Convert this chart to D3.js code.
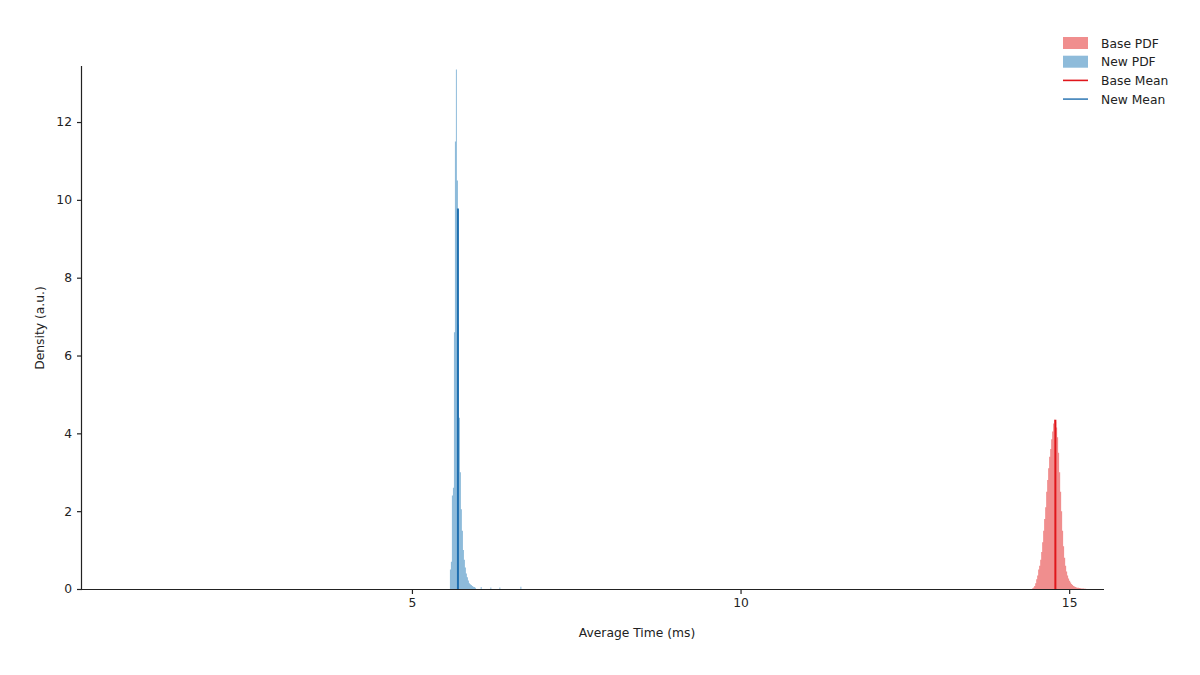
<!DOCTYPE html>
<html><head><meta charset="utf-8">
<script src="https://cdn.jsdelivr.net/npm/d3@7"></script>
<style>body{margin:0;background:#fff}svg{display:block}text{font-family:"DejaVu Sans",sans-serif;fill:#222}</style>
</head><body><svg id="c" width="1200" height="675"></svg>
<script>
// ---- data ----
const binWidth = 0.0152;
const newBinStart = [5.578,5.593,5.608,5.624,5.639,5.654,5.669,5.684,5.700,5.715,5.730,5.745,5.760,5.776,5.791,5.806,5.821,5.836,5.852,5.867,5.882,5.897,5.912,5.928,5.943,5.958,6.046,6.193,6.330,6.650];
const newDensity  = [0.5,0.7,2.4,2.6,6.6,11.5,13.35,10.5,6.8,4.4,3.0,2.05,1.5,1.0,0.75,0.55,0.4,0.3,0.22,0.15,0.12,0.1,0.08,0.06,0.05,0.03,0.05,0.04,0.04,0.06];
const baseBinStart = [14.437,14.452,14.467,14.483,14.498,14.513,14.528,14.543,14.559,14.574,14.589,14.604,14.619,14.635,14.650,14.665,14.680,14.695,14.711,14.726,14.741,14.756,14.771,14.787,14.802,14.817,14.832,14.847,14.863,14.878,14.893,14.908,14.923,14.939,14.954,14.969,14.984,14.999,15.015,15.030,15.045,15.060,15.075,15.091,15.106,15.121,15.136,15.151,15.167,15.182,15.197,15.212,15.227,15.243];
const baseDensity = [0.02,0.04,0.08,0.15,0.25,0.35,0.5,0.6,0.75,0.95,1.2,1.5,1.8,2.1,2.5,2.8,3.1,3.4,3.6,3.85,4.05,4.25,4.35,4.3,4.15,3.9,3.5,3.0,2.5,2.0,1.5,1.1,0.8,0.6,0.45,0.35,0.27,0.21,0.17,0.13,0.1,0.08,0.065,0.05,0.04,0.035,0.03,0.025,0.02,0.015,0.012,0.01,0.008,0.005];
const baseMean = 14.79, baseMeanDensity = 4.35;
const newMean = 5.70, newMeanDensity = 9.78;
const xTicks = [5, 10, 15];
const yTicks = [0, 2, 4, 6, 8, 10, 12];
const legendLabels = ["Base PDF", "New PDF", "Base Mean", "New Mean"];

// ---- layout ----
const svg = d3.select("#c");
const L = 82, R = 1104, T = 66, B = 589;
const x = d3.scaleLinear().domain([-0.02, 15.53]).range([L, R]);
const y = d3.scaleLinear().domain([0, 13.44]).range([B, T]);
const FS = "12.3px";

function histArea(starts, dens, fill) {
  const pts = [];
  starts.forEach((s, i) => {
    pts.push([s, dens[i]]);
    const end = s + binWidth;
    const next = starts[i + 1];
    if (next === undefined || next - end > binWidth * 0.5) pts.push([end, 0]);
  });
  const area = d3.area().curve(d3.curveStepAfter)
    .x(d => x(d[0])).y0(y(0)).y1(d => y(d[1]));
  svg.append("path").datum(pts).attr("d", area).attr("fill", fill);
}
histArea(newBinStart, newDensity, "#8ebbda");
histArea(baseBinStart, baseDensity, "#f08e8e");

// mean lines
svg.append("line").attr("x1", x(newMean)).attr("x2", x(newMean))
  .attr("y1", y(0)).attr("y2", y(newMeanDensity)).attr("stroke", "#1f6fb0").attr("stroke-width", 2);
svg.append("line").attr("x1", x(baseMean)).attr("x2", x(baseMean))
  .attr("y1", y(0)).attr("y2", y(baseMeanDensity)).attr("stroke", "#e0161b").attr("stroke-width", 2);

// axes
const xa = svg.append("g").attr("transform", `translate(0,${B})`)
  .call(d3.axisBottom(x).tickValues(xTicks).tickSize(5).tickPadding(4).tickSizeOuter(0));
const ya = svg.append("g").attr("transform", `translate(${L},0)`)
  .call(d3.axisLeft(y).tickValues(yTicks).tickSize(5).tickPadding(5).tickSizeOuter(0));
[xa, ya].forEach(g => {
  g.selectAll("path.domain").attr("stroke", "#222").attr("stroke-width", 1.2);
  g.selectAll(".tick line").attr("stroke", "#222").attr("stroke-width", 1.2);
  g.selectAll(".tick text").style("font-family", "DejaVu Sans").style("font-size", FS).attr("fill", "#222");
});
xa.select("path.domain").attr("d", `M${L},0.5H${R}`);
ya.select("path.domain").attr("d", `M-0.5,${T}V${B}`);

svg.append("text").attr("x", 637).attr("y", 637).attr("text-anchor", "middle")
  .style("font-size", FS).text("Average Time (ms)");
svg.append("text").attr("transform", "translate(44,328) rotate(-90)").attr("text-anchor", "middle")
  .style("font-size", FS).text("Density (a.u.)");

// legend
const lg = svg.append("g").attr("transform", "translate(1063,43)");
const lgColors = ["#f08e8e", "#8ebbda", "#e0161b", "#3a7fb8"];
legendLabels.forEach((lab, i) => {
  const gy = i * 18.7;
  if (i < 2) lg.append("rect").attr("x", 0).attr("y", gy - 6).attr("width", 25).attr("height", 12).attr("fill", lgColors[i]);
  else lg.append("line").attr("x1", 0).attr("x2", 25).attr("y1", gy).attr("y2", gy).attr("stroke", lgColors[i]).attr("stroke-width", 1.6);
  lg.append("text").attr("x", 38).attr("y", gy + 4.5).style("font-size", FS).text(lab);
});
</script></body></html>
